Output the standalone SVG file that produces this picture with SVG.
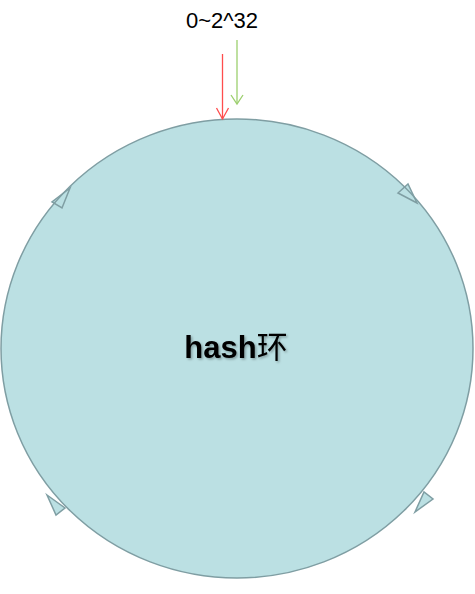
<svg xmlns="http://www.w3.org/2000/svg" width="475" height="594" viewBox="0 0 475 594">
  <style>
    .ring-fill { fill: #bbe0e3; stroke: none; }
    .ring-line { fill: none; stroke: #7f9ea3; stroke-width: 1.5; }
    .dir { fill: #bbe0e3; stroke: #7f9ea3; stroke-width: 1.5; stroke-linejoin: miter; }
    .label { font-family: "Liberation Sans", Arial, "Noto Sans CJK SC", sans-serif; fill: #000; }
  </style>
  <defs>
    <filter id="shadow" x="-10%" y="-20%" width="130%" height="150%">
      <feDropShadow dx="1.5" dy="1.5" stdDeviation="1" flood-color="#000" flood-opacity="0.3"/>
    </filter>
  </defs>

  <!-- hash ring -->
  <g id="ring">
    <ellipse class="ring-fill" cx="237" cy="348.5" rx="236" ry="229.5"/>
    <!-- clockwise direction marks on the ring -->
    <polygon class="dir" points="70,188 52,202 62,208"/>
    <polygon class="dir" points="417,203 398,193 408,184"/>
    <polygon class="dir" points="415,512 424,492 433,499"/>
    <polygon class="dir" points="47,495 65,508 56,515"/>
    <ellipse class="ring-line" cx="237" cy="348.5" rx="236" ry="229.5"/>
    <text class="label" x="236" y="358" font-size="31" text-anchor="middle" filter="url(#shadow)"><tspan font-weight="bold">hash</tspan><tspan font-weight="normal">环</tspan></text>
  </g>

  <!-- range label -->
  <g id="range">
    <text class="label" x="222" y="28" font-size="22" text-anchor="middle">0~2^32</text>
  </g>

  <!-- pointers into the ring -->
  <g id="connectors" fill="none" stroke-width="1.3">
    <g stroke="#ff4d4d">
      <line x1="222.5" y1="54" x2="222.5" y2="119"/>
      <polyline points="216.5,108 222.5,119 228.5,108"/>
    </g>
    <g stroke="#9ccf6e">
      <line x1="237" y1="40" x2="237" y2="104"/>
      <polyline points="231,95 237,104 243,95"/>
    </g>
  </g>
</svg>
